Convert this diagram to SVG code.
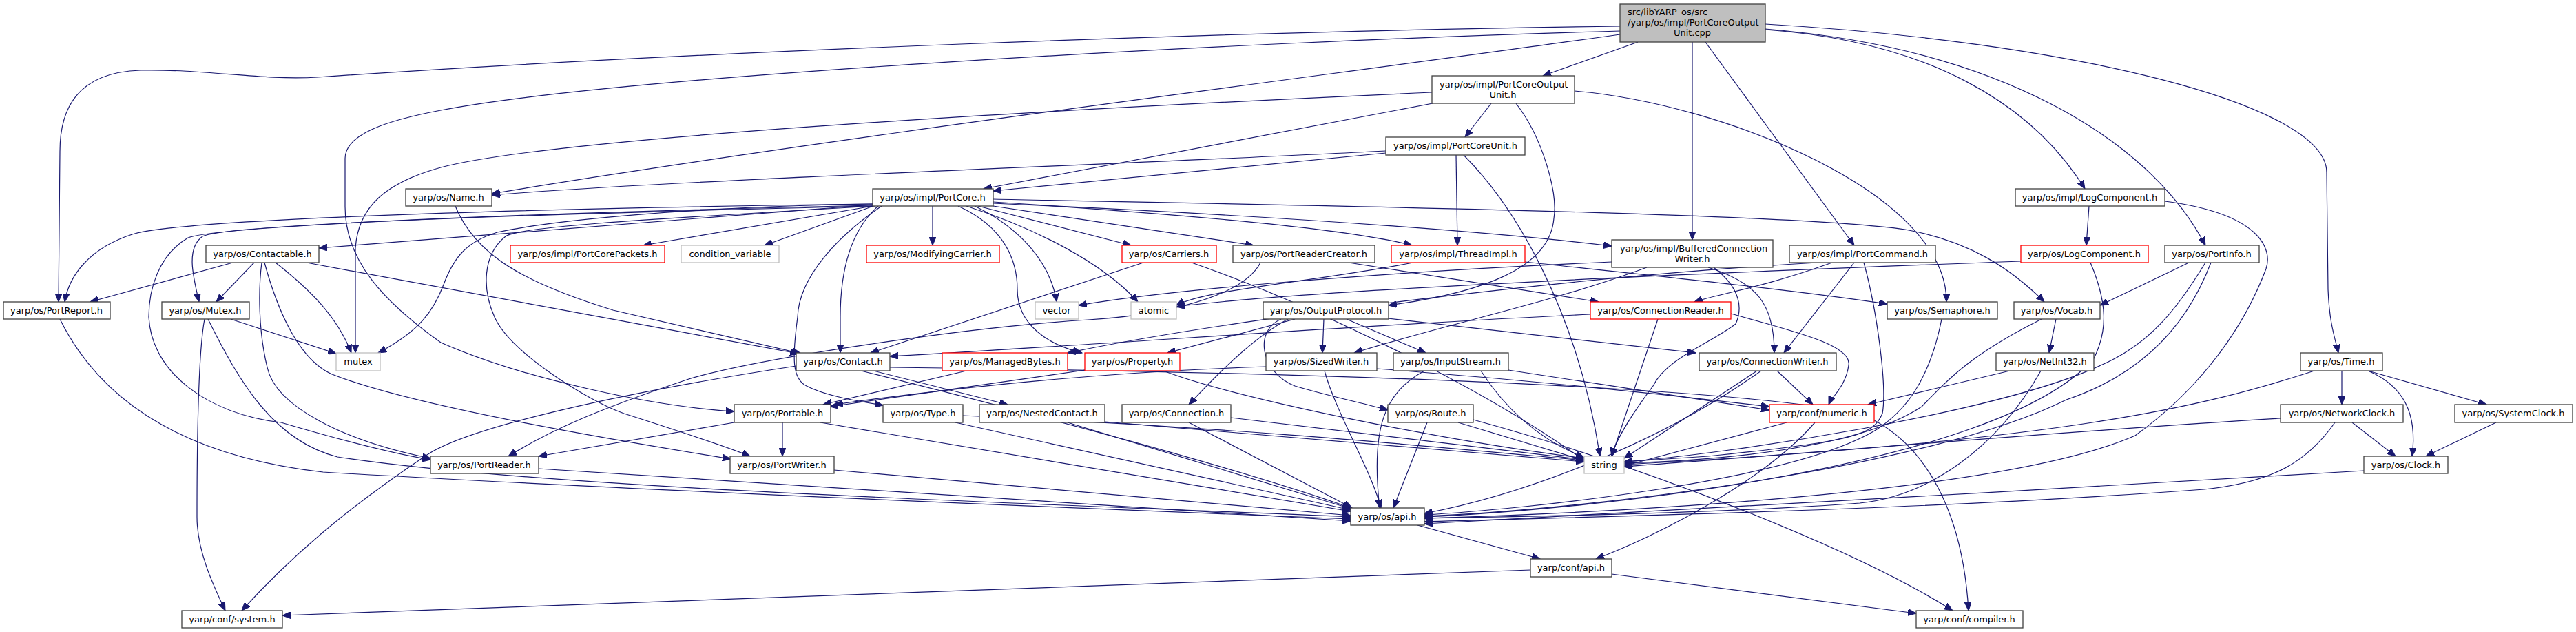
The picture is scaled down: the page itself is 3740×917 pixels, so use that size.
<svg xmlns="http://www.w3.org/2000/svg" width="3740" height="917" viewBox="0 0 3740 917">
<style>
.n rect{fill:#ffffff;stroke:#404040;stroke-width:1.3}
.r rect{fill:#ffffff;stroke:#ff0000;stroke-width:1.3}
.g rect{fill:#ffffff;stroke:#bfbfbf;stroke-width:1.3}
.root rect{fill:#bfbfbf;stroke:#404040;stroke-width:1.3}
text{font-family:"DejaVu Sans","Liberation Sans",sans-serif;font-size:13px;fill:#000000;text-anchor:middle}
text.l{text-anchor:start}
#edges path{fill:none;stroke:#191970;stroke-width:1.2;marker-end:url(#a)}
</style>
<defs>
<marker id="a" markerUnits="userSpaceOnUse" markerWidth="13" markerHeight="10" refX="12" refY="5" orient="auto"><path d="M0,0 L12,5 L0,10 z" fill="#191970" stroke="#191970"/></marker>
</defs>
<rect width="3740" height="917" fill="#ffffff"/>
<g id="edges">
<path d="M2378,61 L2240,110"/>
<path d="M2457,61 L2457,348"/>
<path d="M2476,61 L2692,356"/>
<path d="M2352,50 C2000,100 1200,200 714,281"/>
<path d="M2352,38 C1800,45 1000,75 461,112 C380,117 300,100 204,102 C110,105 87,160 87,220 L85,438"/>
<path d="M2352,45 C1800,60 900,110 640,160 C560,175 501,195 501,230 L501,300 C501,380 560,440 640,497 C760,550 950,590 1066,597"/>
<path d="M2563,43 C2800,60 2950,150 3027,274"/>
<path d="M2563,42 C2900,70 3120,200 3202,356"/>
<path d="M2563,35 C3000,60 3378,150 3378,250 L3380,420 C3382,470 3390,490 3395,512"/>
<path d="M2165,150 L2127,199"/>
<path d="M2080,150 L1428,274"/>
<path d="M2079,134 C1500,160 800,200 640,243 C560,265 520,300 516,360 L516,512"/>
<path d="M2201,150 C2240,200 2262,280 2256,317 C2250,390 2150,425 2016,443"/>
<path d="M2286,132 C2500,150 2827,280 2826,438"/>
<path d="M2012,219 C1600,240 1000,260 714,283"/>
<path d="M2012,222 L1442,277"/>
<path d="M2114,225 L2116,356"/>
<path d="M2125,225 C2200,300 2290,450 2323,662"/>
<path d="M1267,297 L463,360"/>
<path d="M1267,296 C700,303 250,320 192,340 C130,360 100,400 94,438"/>
<path d="M1267,298 C700,310 310,330 273,345 C230,370 216,420 216,460 C220,540 300,600 408,613 C500,640 580,660 625,667"/>
<path d="M1267,299 C800,310 330,325 294,343 C270,360 280,400 289,438"/>
<path d="M1267,296 C1000,300 800,320 722,337 C680,350 660,370 644,413 C630,450 610,480 549,512"/>
<path d="M1267,299 L934,356"/>
<path d="M1268,299 L1110,356"/>
<path d="M1270,299 C900,320 750,330 734,343 C700,370 700,420 718,460 C740,510 850,580 906,600 C1000,630 1060,650 1089,662"/>
<path d="M1275,299 C1240,330 1220,380 1220,460 L1220,512"/>
<path d="M1280,299 C1220,340 1160,400 1158,460 C1150,520 1150,550 1171,560 C1200,575 1250,583 1282,588"/>
<path d="M1354,299 L1354,356"/>
<path d="M1415,299 C1480,330 1525,380 1534,438"/>
<path d="M1403,299 C1500,330 1600,380 1652,438"/>
<path d="M1391,299 C1460,330 1477,380 1477,420 C1477,470 1520,500 1571,512"/>
<path d="M1420,299 L1642,356"/>
<path d="M1442,299 L1820,356"/>
<path d="M1442,293 C1700,310 1950,330 2050,356"/>
<path d="M1442,295 C1900,315 2200,340 2340,357"/>
<path d="M1442,289 C2000,300 2600,310 2766,333 C2860,350 2920,390 2968,438"/>
<path d="M338,381 L131,438"/>
<path d="M369,381 L314,438"/>
<path d="M380,381 C375,420 375,480 388,533 C400,590 500,640 625,665"/>
<path d="M384,381 C400,440 430,520 482,543 C600,590 900,640 1061,666"/>
<path d="M400,381 C450,420 490,460 510,512"/>
<path d="M445,381 L1159,513"/>
<path d="M661,299 C690,370 760,410 890,450 L1163,513"/>
<path d="M335,463 L488,513"/>
<path d="M297,463 C286,520 286,700 286,750 C286,800 310,850 327,886"/>
<path d="M302,463 C350,560 400,640 490,663 C800,710 1500,730 1961,750"/>
<path d="M87,463 C140,570 250,660 469,685 C900,710 1500,735 1961,753"/>
<path d="M1066,613 L782,662"/>
<path d="M1136,613 L1136,662"/>
<path d="M1191,613 L1961,742"/>
<path d="M782,680 L1961,756"/>
<path d="M1211,682 L1961,748"/>
<path d="M1660,381 L1264,512"/>
<path d="M1730,381 C1900,440 2150,560 2300,668"/>
<path d="M1830,381 C1800,440 1650,460 1580,464 C1400,475 1100,520 1000,550 C850,600 790,630 738,662"/>
<path d="M1958,381 L2321,438"/>
<path d="M1156,531 C900,570 680,620 620,660 C500,740 420,810 351,886"/>
<path d="M2052,381 C1900,410 1750,420 1708,443"/>
<path d="M2214,380 C2400,400 2600,420 2740,441"/>
<path d="M2340,380 C2000,395 1700,420 1566,443"/>
<path d="M2480,388 C2550,410 2576,440 2576,512"/>
<path d="M2488,388 C2530,420 2529,450 2520,470 C2480,500 2420,520 2400,560 C2370,600 2345,640 2340,662"/>
<path d="M2391,388 C2250,440 2100,470 1966,512"/>
<path d="M2692,381 L2590,512"/>
<path d="M2660,381 C2550,420 2500,425 2460,438"/>
<path d="M2639,381 C2300,400 1800,460 1550,512"/>
<path d="M2706,381 C2725,450 2740,560 2733,600 C2720,630 2700,640 2480,662 L2358,670"/>
<path d="M1922,463 L1920,512"/>
<path d="M1955,463 L2070,512"/>
<path d="M2015,462 L2462,512"/>
<path d="M1880,463 L1695,512"/>
<path d="M1870,463 C1820,490 1770,540 1726,587"/>
<path d="M1860,463 C1820,480 1830,540 1880,560 C1930,575 1980,585 2015,595"/>
<path d="M2407,463 L2340,662"/>
<path d="M2513,455 C2600,480 2690,500 2684,530 C2680,560 2660,575 2655,587"/>
<path d="M2309,456 C2000,470 1600,500 1292,517"/>
<path d="M2819,463 C2800,560 2760,600 2725,623 C2600,700 2200,740 2068,747"/>
<path d="M2985,463 L2975,512"/>
<path d="M2964,463 C2850,520 2820,560 2790,590 C2700,650 2500,668 2358,672"/>
<path d="M2934,379 C2500,395 1900,420 1708,445"/>
<path d="M3035,381 C3060,440 3060,480 3040,520 C2900,680 2300,740 2068,750"/>
<path d="M3033,299 L3029,356"/>
<path d="M3143,292 C3280,310 3300,360 3290,390 C3260,470 3200,560 3100,632 C2900,720 2300,745 2068,752"/>
<path d="M3178,381 L3049,443"/>
<path d="M3202,381 C3160,450 3120,500 3050,530 C2900,600 2500,660 2358,670"/>
<path d="M3210,381 C3180,460 3120,540 3000,580 C2800,680 2300,740 2068,749"/>
<path d="M2918,538 L2712,587"/>
<path d="M2963,538 C2900,650 2800,720 2700,730 C2500,745 2200,750 2068,752"/>
<path d="M2580,538 L2632,587"/>
<path d="M2551,538 L2358,665"/>
<path d="M2557,538 C2400,650 2200,720 2068,745"/>
<path d="M2635,613 C2560,700 2400,780 2317,811"/>
<path d="M2594,613 L2358,676"/>
<path d="M3400,538 L3400,587"/>
<path d="M3438,538 L3610,587"/>
<path d="M3438,538 C3490,560 3510,600 3502,662"/>
<path d="M3360,538 C3200,590 3000,640 2358,674"/>
<path d="M3415,613 L3478,662"/>
<path d="M3311,607 C3000,625 2600,660 2358,677"/>
<path d="M3390,613 C3350,670 3300,700 3200,710 C2800,740 2300,750 2068,757"/>
<path d="M3624,613 L3522,662"/>
<path d="M3432,683 C3000,710 2400,740 2068,760"/>
<path d="M1268,538 L1463,587"/>
<path d="M1292,533 C1900,540 2500,560 2700,600 C2800,640 2850,750 2858,886"/>
<path d="M1250,538 C1500,600 1800,680 1961,737"/>
<path d="M1398,603 C1800,620 2100,650 2300,668"/>
<path d="M1387,613 L1961,740"/>
<path d="M1604,612 L2300,670"/>
<path d="M1550,613 L1961,738"/>
<path d="M1787,606 L2300,667"/>
<path d="M1726,613 L1963,737"/>
<path d="M2117,613 L2300,668"/>
<path d="M2072,613 L2023,737"/>
<path d="M2139,609 C2400,680 2700,800 2835,886"/>
<path d="M1838,532 C1600,540 1400,560 1212,587"/>
<path d="M1923,538 C1940,600 1990,680 2005,737"/>
<path d="M1999,535 C2200,550 2400,570 2569,590"/>
<path d="M2068,538 C2010,570 1990,620 2003,737"/>
<path d="M2150,538 C2190,600 2240,640 2300,664"/>
<path d="M2190,537 L2569,595"/>
<path d="M1403,538 L1195,587"/>
<path d="M1575,537 L1205,590"/>
<path d="M1689,538 C1800,580 2100,640 2300,665"/>
<path d="M2222,827 L410,893"/>
<path d="M2340,833 L2782,890"/>
<path d="M2058,762 L2236,811"/>
</g>
<g id="root" class="root"><rect x="2352" y="6" width="211" height="55"/><text class="l" x="2363" y="22">src/libYARP_os/src</text><text class="l" x="2363" y="37">/yarp/os/impl/PortCoreOutput</text><text x="2457" y="52">Unit.cpp</text></g>
<g id="PortCoreOutputUnit_h" class="n"><rect x="2079" y="110" width="207" height="40"/><text class="l" x="2090" y="127">yarp/os/impl/PortCoreOutput</text><text x="2182" y="142">Unit.h</text></g>
<g id="PortCoreUnit_h" class="n"><rect x="2012" y="199" width="202" height="26"/><text x="2113" y="216">yarp/os/impl/PortCoreUnit.h</text></g>
<g id="Name_h" class="n"><rect x="589" y="274" width="125" height="25"/><text x="651" y="291">yarp/os/Name.h</text></g>
<g id="PortCore_h" class="n"><rect x="1267" y="274" width="175" height="25"/><text x="1354" y="291">yarp/os/impl/PortCore.h</text></g>
<g id="impl_LogComponent_h" class="n"><rect x="2926" y="274" width="217" height="25"/><text x="3034" y="291">yarp/os/impl/LogComponent.h</text></g>
<g id="Contactable_h" class="n"><rect x="299" y="356" width="164" height="25"/><text x="381" y="373">yarp/os/Contactable.h</text></g>
<g id="PortCorePackets_h" class="r"><rect x="741" y="356" width="224" height="25"/><text x="853" y="373">yarp/os/impl/PortCorePackets.h</text></g>
<g id="condition_variable" class="g"><rect x="989" y="356" width="142" height="25"/><text x="1060" y="373">condition_variable</text></g>
<g id="ModifyingCarrier_h" class="r"><rect x="1258" y="356" width="193" height="25"/><text x="1354" y="373">yarp/os/ModifyingCarrier.h</text></g>
<g id="Carriers_h" class="r"><rect x="1629" y="356" width="137" height="25"/><text x="1697" y="373">yarp/os/Carriers.h</text></g>
<g id="PortReaderCreator_h" class="n"><rect x="1790" y="356" width="206" height="25"/><text x="1893" y="373">yarp/os/PortReaderCreator.h</text></g>
<g id="ThreadImpl_h" class="r"><rect x="2020" y="356" width="194" height="25"/><text x="2117" y="373">yarp/os/impl/ThreadImpl.h</text></g>
<g id="BufferedConnectionWriter_h" class="n"><rect x="2340" y="348" width="234" height="40"/><text class="l" x="2352" y="365">yarp/os/impl/BufferedConnection</text><text x="2457" y="380">Writer.h</text></g>
<g id="PortCommand_h" class="n"><rect x="2598" y="356" width="212" height="25"/><text x="2704" y="373">yarp/os/impl/PortCommand.h</text></g>
<g id="LogComponent_h" class="r"><rect x="2934" y="356" width="185" height="25"/><text x="3026" y="373">yarp/os/LogComponent.h</text></g>
<g id="PortInfo_h" class="n"><rect x="3143" y="356" width="137" height="25"/><text x="3211" y="373">yarp/os/PortInfo.h</text></g>
<g id="PortReport_h" class="n"><rect x="5" y="438" width="155" height="25"/><text x="82" y="455">yarp/os/PortReport.h</text></g>
<g id="Mutex_h" class="n"><rect x="235" y="438" width="127" height="25"/><text x="298" y="455">yarp/os/Mutex.h</text></g>
<g id="vector" class="g"><rect x="1503" y="438" width="63" height="25"/><text x="1534" y="455">vector</text></g>
<g id="atomic" class="g"><rect x="1642" y="438" width="66" height="25"/><text x="1675" y="455">atomic</text></g>
<g id="OutputProtocol_h" class="n"><rect x="1834" y="438" width="182" height="25"/><text x="1925" y="455">yarp/os/OutputProtocol.h</text></g>
<g id="ConnectionReader_h" class="r"><rect x="2309" y="438" width="204" height="25"/><text x="2411" y="455">yarp/os/ConnectionReader.h</text></g>
<g id="Semaphore_h" class="n"><rect x="2740" y="438" width="160" height="25"/><text x="2820" y="455">yarp/os/Semaphore.h</text></g>
<g id="Vocab_h" class="n"><rect x="2924" y="438" width="125" height="25"/><text x="2986" y="455">yarp/os/Vocab.h</text></g>
<g id="mutex" class="g"><rect x="488" y="512" width="64" height="26"/><text x="520" y="529">mutex</text></g>
<g id="Contact_h" class="n"><rect x="1156" y="512" width="136" height="26"/><text x="1224" y="529">yarp/os/Contact.h</text></g>
<g id="ManagedBytes_h" class="r"><rect x="1368" y="512" width="182" height="26"/><text x="1459" y="529">yarp/os/ManagedBytes.h</text></g>
<g id="Property_h" class="r"><rect x="1575" y="512" width="138" height="26"/><text x="1644" y="529">yarp/os/Property.h</text></g>
<g id="SizedWriter_h" class="n"><rect x="1838" y="512" width="161" height="26"/><text x="1918" y="529">yarp/os/SizedWriter.h</text></g>
<g id="InputStream_h" class="n"><rect x="2023" y="512" width="167" height="26"/><text x="2106" y="529">yarp/os/InputStream.h</text></g>
<g id="ConnectionWriter_h" class="n"><rect x="2467" y="512" width="199" height="26"/><text x="2566" y="529">yarp/os/ConnectionWriter.h</text></g>
<g id="NetInt32_h" class="n"><rect x="2898" y="512" width="142" height="26"/><text x="2969" y="529">yarp/os/NetInt32.h</text></g>
<g id="Time_h" class="n"><rect x="3340" y="512" width="119" height="26"/><text x="3399" y="529">yarp/os/Time.h</text></g>
<g id="Portable_h" class="n"><rect x="1066" y="587" width="140" height="26"/><text x="1136" y="604">yarp/os/Portable.h</text></g>
<g id="Type_h" class="n"><rect x="1282" y="587" width="116" height="26"/><text x="1340" y="604">yarp/os/Type.h</text></g>
<g id="NestedContact_h" class="n"><rect x="1422" y="587" width="182" height="26"/><text x="1513" y="604">yarp/os/NestedContact.h</text></g>
<g id="Connection_h" class="n"><rect x="1629" y="587" width="158" height="26"/><text x="1708" y="604">yarp/os/Connection.h</text></g>
<g id="Route_h" class="n"><rect x="2015" y="587" width="124" height="26"/><text x="2077" y="604">yarp/os/Route.h</text></g>
<g id="numeric_h" class="r"><rect x="2569" y="587" width="152" height="26"/><text x="2645" y="604">yarp/conf/numeric.h</text></g>
<g id="NetworkClock_h" class="n"><rect x="3311" y="587" width="178" height="26"/><text x="3400" y="604">yarp/os/NetworkClock.h</text></g>
<g id="SystemClock_h" class="n"><rect x="3564" y="587" width="171" height="26"/><text x="3649" y="604">yarp/os/SystemClock.h</text></g>
<g id="PortReader_h" class="n"><rect x="625" y="662" width="157" height="25"/><text x="703" y="679">yarp/os/PortReader.h</text></g>
<g id="PortWriter_h" class="n"><rect x="1060" y="662" width="151" height="25"/><text x="1135" y="679">yarp/os/PortWriter.h</text></g>
<g id="string" class="g"><rect x="2300" y="662" width="58" height="25"/><text x="2329" y="679">string</text></g>
<g id="Clock_h" class="n"><rect x="3432" y="662" width="122" height="25"/><text x="3493" y="679">yarp/os/Clock.h</text></g>
<g id="os_api_h" class="n"><rect x="1961" y="737" width="107" height="25"/><text x="2014" y="754">yarp/os/api.h</text></g>
<g id="conf_api_h" class="n"><rect x="2222" y="811" width="118" height="26"/><text x="2281" y="828">yarp/conf/api.h</text></g>
<g id="system_h" class="n"><rect x="264" y="886" width="146" height="25"/><text x="337" y="903">yarp/conf/system.h</text></g>
<g id="compiler_h" class="n"><rect x="2782" y="886" width="155" height="25"/><text x="2859" y="903">yarp/conf/compiler.h</text></g>
</svg>
